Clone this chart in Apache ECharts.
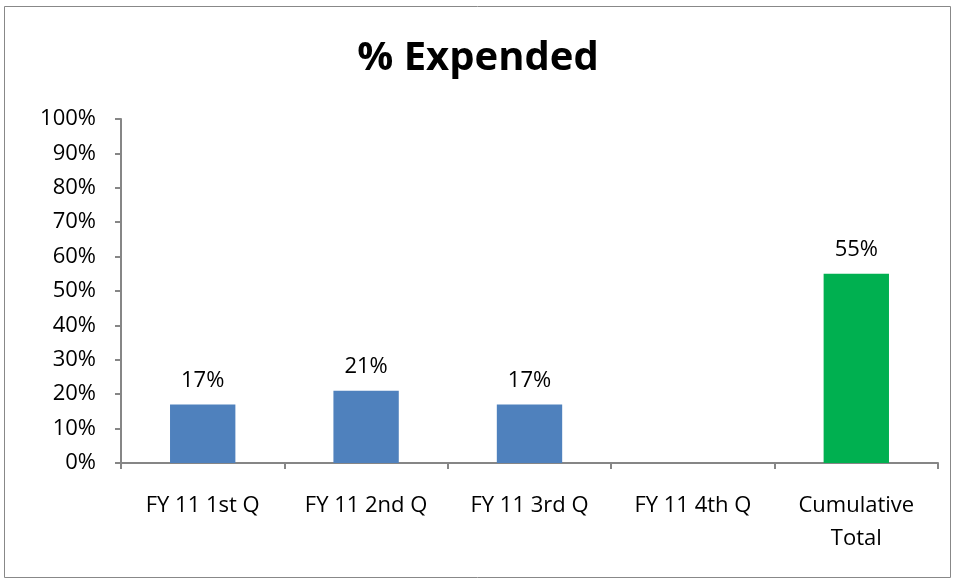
<!DOCTYPE html>
<html>
<head>
<meta charset="utf-8">
<script src="https://cdn.jsdelivr.net/npm/echarts@6/dist/echarts.min.js"></script>
<style>
  html, body { margin: 0; padding: 0; background: #fff; }
  #chart { width: 956px; height: 580px; }
</style>
</head>
<body>
<div id="chart"></div>
<script>
const categories = ['FY 11 1st Q', 'FY 11 2nd Q', 'FY 11 3rd Q', 'FY 11 4th Q', 'Cumulative\nTotal'];
const expended = [17, 21, 17, null, 55];
const barColors = ['#4F81BD', '#4F81BD', '#4F81BD', '#4F81BD', '#00B050'];

const chart = echarts.init(document.getElementById('chart'));

const option = {
  backgroundColor: '#fff',
  animation: false,
  title: {
    text: '% Expended',
    left: 'center',
    top: 34,
    textStyle: {
      fontFamily: 'Open Sans',
      fontWeight: 'bold',
      fontSize: 40,
      color: '#000'
    }
  },
  // outer chart border
  graphic: [{
    type: 'rect',
    shape: { x: 4.5, y: 6.5, width: 946, height: 571 },
    style: { fill: 'none', stroke: '#888', lineWidth: 1 },
    silent: true
  }],
  grid: {
    left: 121,
    right: 18,
    top: 119,
    bottom: 117
  },
  xAxis: {
    type: 'category',
    data: categories,
    axisLine: { lineStyle: { color: '#868686', width: 2 } },
    axisTick: { show: true, length: 6, alignWithLabel: false, lineStyle: { color: '#868686', width: 2 } },
    axisLabel: {
      color: '#000',
      fontFamily: 'Open Sans',
      fontSize: 22,
      margin: 26,
      lineHeight: 33
    }
  },
  yAxis: {
    type: 'value',
    min: 0,
    max: 100,
    interval: 10,
    splitLine: { show: false },
    axisLine: { show: true, lineStyle: { color: '#868686', width: 2 } },
    axisTick: { show: true, length: 6, lineStyle: { color: '#868686', width: 2 } },
    axisLabel: {
      formatter: '{value}%',
      color: '#000',
      fontFamily: 'Open Sans',
      fontSize: 22,
      margin: 25
    }
  },
  series: [{
    type: 'bar',
    barWidth: '40%',
    data: expended.map((v, i) => ({ value: v, itemStyle: { color: barColors[i] } })),
    label: {
      show: true,
      position: 'top',
      distance: 13,
      formatter: p => p.value + '%',
      color: '#000',
      fontFamily: 'Open Sans',
      fontSize: 22
    }
  }]
};

chart.setOption(option);
</script>
</body>
</html>
